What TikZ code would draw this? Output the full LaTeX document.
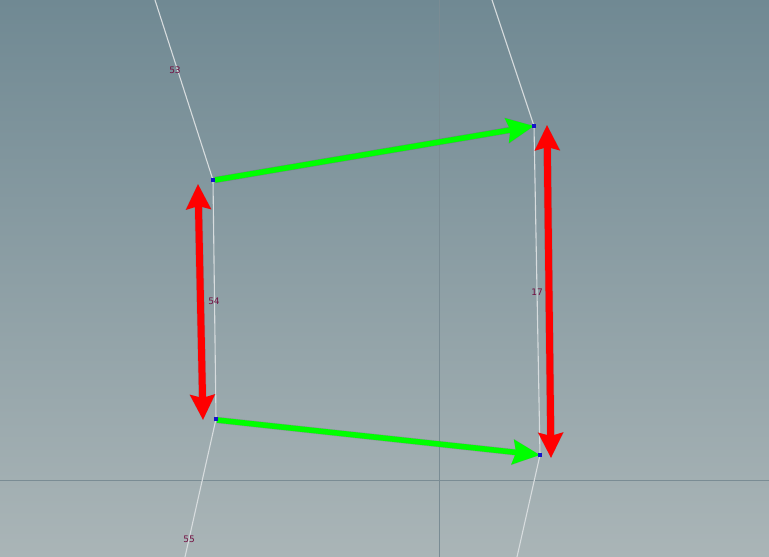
\documentclass[tikz,border=0pt]{standalone}
\usepackage{fontspec}
\setmainfont{DejaVu Sans}
\usetikzlibrary{arrows.meta}
\definecolor{bgtop}{RGB}{112,137,147}
\definecolor{bgbot}{RGB}{170,181,183}
\definecolor{gridc}{RGB}{122,140,148}
\definecolor{edgec}{RGB}{215,220,222}
\definecolor{lblc}{RGB}{115,15,65}
\definecolor{greenc}{RGB}{0,255,0}
\definecolor{redc}{RGB}{255,0,0}
\definecolor{vtxc}{RGB}{20,20,200}
\tikzset{
  edge/.style={draw=edgec, line width=1.1pt},
  gridline/.style={draw=gridc, line width=0.8pt},
  lbl/.style={text=lblc, font=\fontsize{9}{10}\selectfont, inner sep=0pt},
  garrow/.style={draw=greenc, line width=5.5pt, -{Stealth[length=27pt,width=24pt,inset=3pt]}},
  rarrow/.style={draw=redc, line width=7pt, {Stealth[length=25pt,width=24pt,inset=3pt]}-{Stealth[length=25pt,width=24pt,inset=3pt]}},
  shadowg/.style={draw=black, opacity=0.12, line width=6.5pt, -{Stealth[length=27pt,width=25pt,inset=3pt]}},
  shadowr/.style={draw=black, opacity=0.12, line width=8pt, {Stealth[length=25pt,width=25pt,inset=3pt]}-{Stealth[length=25pt,width=25pt,inset=3pt]}},
  vtx/.style={fill=vtxc, minimum size=3.5pt, inner sep=0pt, draw=none}
}
\begin{document}
\begin{tikzpicture}[x=1pt,y=-1pt]
\useasboundingbox (0,0) rectangle (769,557);
\shade[top color=bgtop, bottom color=bgbot] (0,0) rectangle (769,557);
% grid
\coordinate (gv1) at (439,0); \coordinate (gv2) at (439,557);
\coordinate (gh1) at (0,480); \coordinate (gh2) at (769,480);
\draw[gridline] (gv1) -- (gv2);
\draw[gridline] (gh1) -- (gh2);
% vertices
\coordinate (A) at (213,180);
\coordinate (B) at (216,419);
\coordinate (C) at (534,126);
\coordinate (D) at (540,455);
\coordinate (At) at (155,0);
\coordinate (Bb) at (185,557);
\coordinate (Ct) at (492,0);
\coordinate (Db) at (517,557);
% edges
\draw[edge] (At) -- (A) -- (B) -- (Bb);
\draw[edge] (Ct) -- (C) -- (D) -- (Db);
% labels
\node[lbl] (l53) at (175,70) {53};
\node[lbl] (l54) at (214,301) {54};
\node[lbl] (l17) at (537,292) {17};
\node[lbl] (l55) at (189,539) {55};
% arrow endpoints
\coordinate (g1s) at (215,180);
\coordinate (g1e) at (534,126);
\coordinate (g2s) at (217,420);
\coordinate (g2e) at (540,455);
\coordinate (r1a) at (198,184);
\coordinate (r1b) at (203,420);
\coordinate (r2a) at (547,125);
\coordinate (r2b) at (551,458);
% shadows
\begin{scope}[shift={(2,2)}]
\draw[shadowg] (g1s) -- (g1e);
\draw[shadowg] (g2s) -- (g2e);
\draw[shadowr] (r1a) -- (r1b);
\draw[shadowr] (r2a) -- (r2b);
\end{scope}
% arrows
\draw[garrow] (g1s) -- (g1e);
\draw[garrow] (g2s) -- (g2e);
\draw[rarrow] (r1a) -- (r1b);
\draw[rarrow] (r2a) -- (r2b);
% vertex markers
\node[vtx] (vA) at (A) {};
\node[vtx] (vB) at (B) {};
\node[vtx] (vC) at (C) {};
\node[vtx] (vD) at (D) {};
\end{tikzpicture}
\end{document}
